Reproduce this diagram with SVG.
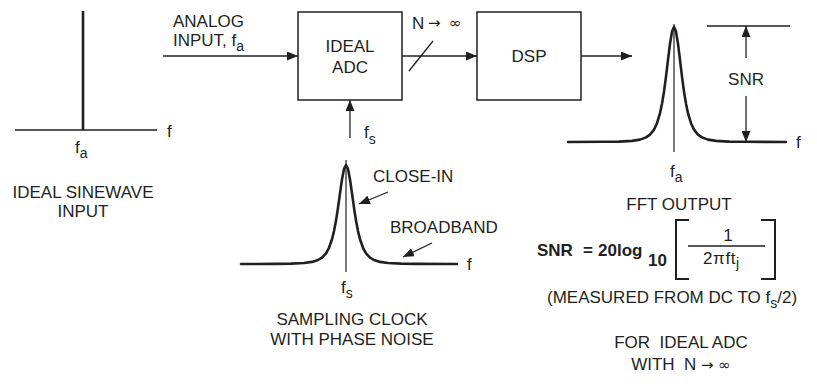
<svg xmlns="http://www.w3.org/2000/svg" width="817" height="386" viewBox="0 0 817 386">
<defs>
<style>
text{font-family:"Liberation Sans",Arial,Helvetica,sans-serif;font-size:17px;fill:#231f20}
.sub{font-size:14px}
.sym{font-family:"DejaVu Sans",sans-serif;font-size:15px;font-weight:normal}
.b{font-weight:bold}
.pre{white-space:pre}
.box{fill:none;stroke:#231f20;stroke-width:1.5}
.ln{fill:none;stroke:#231f20;stroke-width:1.3}
.thin{fill:none;stroke:#231f20;stroke-width:1.2}
.curve{fill:none;stroke:#231f20;stroke-width:2.6;stroke-linejoin:round;stroke-linecap:round}
</style>
<marker id="ah" markerUnits="userSpaceOnUse" markerWidth="11" markerHeight="9" refX="11" refY="4.5" orient="auto">
<path d="M0,0 L11,4.5 L0,9 z" fill="#231f20"/>
</marker>
</defs>
<rect width="817" height="386" fill="#ffffff"/>

<g id="ideal-sinewave">
<line class="ln" x1="15" y1="130" x2="157" y2="130"/>
<line x1="83" y1="11" x2="83" y2="130" stroke="#231f20" stroke-width="2.6"/>
<text x="167" y="137">f</text>
<text x="75" y="153">f<tspan class="sub" dy="5">a</tspan></text>
<text x="83" y="198" text-anchor="middle">IDEAL SINEWAVE</text>
<text x="83" y="217" text-anchor="middle">INPUT</text>
</g>

<g id="analog-input-label">
<text x="173" y="27">ANALOG</text>
<text x="173" y="46">INPUT, f<tspan class="sub" dy="5">a</tspan></text>
</g>

<g id="ideal-adc">
<rect class="box" x="298" y="12" width="104" height="88"/>
<text x="350" y="52" text-anchor="middle">IDEAL</text>
<text x="350" y="73" text-anchor="middle">ADC</text>
</g>

<g id="dsp">
<rect class="box" x="477" y="12" width="104" height="88"/>
<text x="529" y="62" text-anchor="middle">DSP</text>
</g>

<g id="bus-label">
<text x="412" y="29">N<tspan class="sym" x="428" y="28">→</tspan><tspan class="sym" x="449" y="28">∞</tspan></text>
</g>

<g id="sampling-clock">
<path class="curve" d="M241,264 L276,263.85 L291,263.6 L304,263 L312,261.9 L318,260 L322,257.6 L326,253.3 L329,247.8 L332,239.25 L334,231.1 L336,220.6 L338,207.7 L340,193.3 L342,179.4 L344,168.9 L346,165 L348,168.9 L350,179.4 L352,193.3 L354,207.7 L356,220.6 L358,231.1 L360,239.25 L363,247.8 L366,253.3 L370,257.6 L374,260 L380,261.9 L388,263 L401,263.6 L416,263.85 L457,264"/>
<line class="thin" x1="346" y1="160" x2="346" y2="272"/>
<text x="467" y="270">f</text>
<text x="341" y="293">f<tspan class="sub" dy="5">s</tspan></text>
<text x="373" y="182">CLOSE-IN</text>
<text x="390" y="233">BROADBAND</text>
<text x="352" y="325" text-anchor="middle">SAMPLING CLOCK</text>
<text x="352" y="345" text-anchor="middle">WITH PHASE NOISE</text>
</g>

<g id="fft-output">
<path class="curve" d="M568,142 L604,141.8 L619,141.6 L632,140.85 L640,139.6 L646,137.4 L650,134.6 L654,129.6 L657,123.2 L660,113.25 L662,103.8 L664,91.6 L666,76.6 L668,59.9 L670,43.7 L672,31.6 L674,27 L676,31.6 L678,43.7 L680,59.9 L682,76.6 L684,91.6 L686,103.8 L688,113.25 L691,123.2 L694,129.6 L698,134.6 L702,137.4 L708,139.6 L716,140.85 L729,141.6 L744,141.8 L786,142"/>
<line class="thin" x1="674" y1="24" x2="674" y2="152"/>
<line class="ln" x1="707" y1="26" x2="790" y2="26"/>
<line class="ln" x1="746" y1="58" x2="746" y2="26" marker-end="url(#ah)"/>
<line class="ln" x1="746" y1="96" x2="746" y2="142" marker-end="url(#ah)"/>
<text x="746" y="85" text-anchor="middle">SNR</text>
<text x="796" y="148">f</text>
<text x="670" y="177">f<tspan class="sub" dy="5">a</tspan></text>
<text x="679" y="210" text-anchor="middle">FFT OUTPUT</text>
</g>

<g id="snr-formula">
<text class="b" x="537" y="256">SNR</text>
<text class="b" x="583" y="256">=</text>
<text class="b" x="598" y="256">20log</text>
<text class="b" x="648" y="266">10</text>
<path d="M689,220 L676,220 L676,279 L689,279" fill="none" stroke="#231f20" stroke-width="2"/>
<path d="M761,220 L775,220 L775,279 L761,279" fill="none" stroke="#231f20" stroke-width="2"/>
<text x="728" y="241" text-anchor="middle">1</text>
<line class="ln" x1="688" y1="246" x2="765" y2="246"/>
<text x="703" y="264" font-size="18" letter-spacing="0.6">2πft</text>
<text class="sub" x="736" y="268">j</text>
<text x="547" y="303">(MEASURED FROM DC TO f<tspan class="sub" dy="5">s</tspan><tspan dy="-5">/2)</tspan></text>
<text class="pre" x="681" y="348" text-anchor="middle">FOR  IDEAL ADC</text>
<text class="pre" x="681" y="370" text-anchor="middle">WITH  N <tspan class="sym">→ ∞</tspan></text>
</g>

<g id="connectors">
<line class="ln" x1="163" y1="56" x2="298" y2="56" marker-end="url(#ah)"/>
<line class="ln" x1="402" y1="56" x2="477" y2="56" marker-end="url(#ah)"/>
<line class="ln" x1="409" y1="71" x2="433" y2="41"/>
<line class="ln" x1="581" y1="56" x2="632" y2="56" marker-end="url(#ah)"/>
<line class="ln" x1="350" y1="138" x2="350" y2="100" marker-end="url(#ah)"/>
<text x="364" y="138">f<tspan class="sub" dy="6">s</tspan></text>
<line class="ln" x1="388" y1="192" x2="359" y2="204" marker-end="url(#ah)"/>
<line class="ln" x1="432" y1="243" x2="403" y2="257" marker-end="url(#ah)"/>
</g>
</svg>
